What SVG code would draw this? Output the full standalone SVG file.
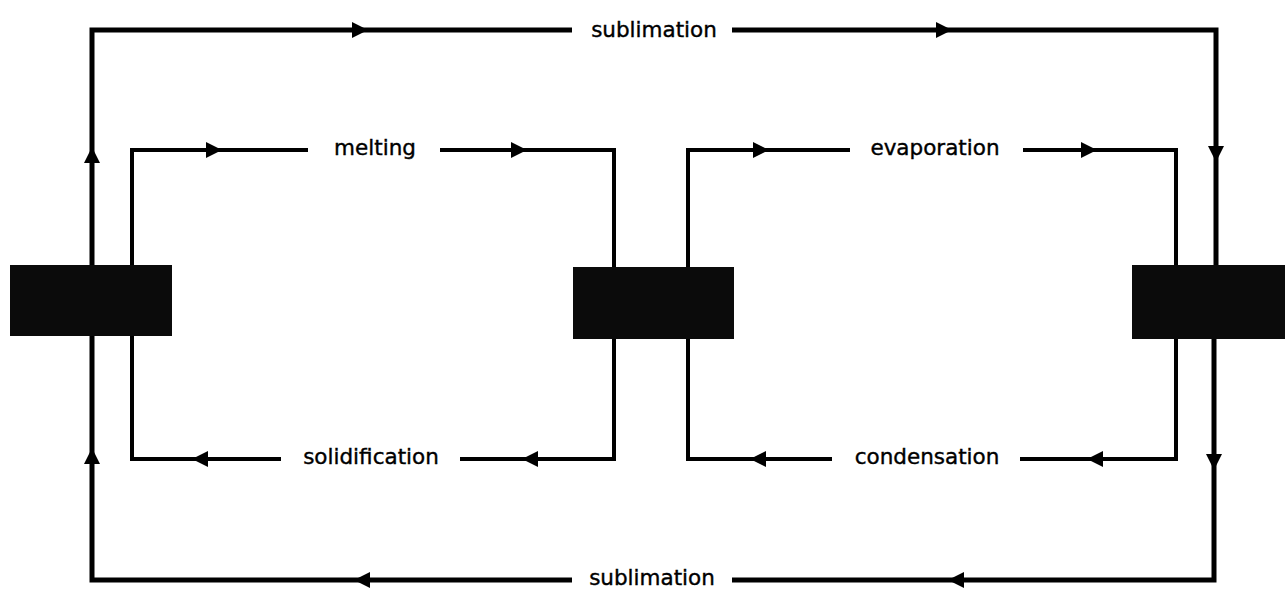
<svg xmlns="http://www.w3.org/2000/svg" width="1285" height="589" viewBox="0 0 1285 589">
<style>
.outer{fill:none;stroke:#000;stroke-width:5;stroke-linejoin:miter}
.inner{fill:none;stroke:#000;stroke-width:4;stroke-linejoin:miter}
.lbl{font-family:"DejaVu Sans","Liberation Sans",sans-serif;font-size:21.5px;fill:#000;stroke:#000;stroke-width:0.4;text-anchor:middle}
.box{fill:#0b0b0b}
</style>
<defs>
<path id="ah" d="M0,0 L-16,-8 L-16,8 Z" fill="#000"/>
</defs>
<rect width="1285" height="589" fill="#fff"/>
<g id="connectors">
  <path class="outer" d="M92,265 V30 H572"/>
  <path class="outer" d="M732,30 H1216 V265"/>
  <path class="outer" d="M1214,339 V580 H732"/>
  <path class="outer" d="M572,580 H92 V336"/>
  <path class="inner" d="M132,265 V150 H308"/>
  <path class="inner" d="M440,150 H614 V267"/>
  <path class="inner" d="M614,339 V459 H460"/>
  <path class="inner" d="M281,459 H132 V336"/>
  <path class="inner" d="M688,267 V150 H850"/>
  <path class="inner" d="M1023,150 H1176 V265"/>
  <path class="inner" d="M1176,339 V459 H1020"/>
  <path class="inner" d="M832,459 H688 V339"/>
  <use href="#ah" transform="translate(368,30)"/>
  <use href="#ah" transform="translate(952,30)"/>
  <use href="#ah" transform="translate(1216,162) rotate(90)"/>
  <use href="#ah" transform="translate(1214,470) rotate(90)"/>
  <use href="#ah" transform="translate(948,580) rotate(180)"/>
  <use href="#ah" transform="translate(354,580) rotate(180)"/>
  <use href="#ah" transform="translate(92,448) rotate(-90)"/>
  <use href="#ah" transform="translate(92,147) rotate(-90)"/>
  <use href="#ah" transform="translate(222,150)"/>
  <use href="#ah" transform="translate(527,150)"/>
  <use href="#ah" transform="translate(192,459) rotate(180)"/>
  <use href="#ah" transform="translate(522,459) rotate(180)"/>
  <use href="#ah" transform="translate(769,150)"/>
  <use href="#ah" transform="translate(1097,150)"/>
  <use href="#ah" transform="translate(750,459) rotate(180)"/>
  <use href="#ah" transform="translate(1087,459) rotate(180)"/>
</g>
<g id="labels">
  <text class="lbl" x="654" y="37">sublimation</text>
  <text class="lbl" x="375" y="155">melting</text>
  <text class="lbl" x="935" y="155">evaporation</text>
  <text class="lbl" x="371" y="464">solidification</text>
  <text class="lbl" x="927" y="464">condensation</text>
  <text class="lbl" x="652" y="585">sublimation</text>
</g>
<g id="solid"><rect class="box" x="10" y="265" width="162" height="71"/></g>
<g id="liquid"><rect class="box" x="573" y="267" width="161" height="72"/></g>
<g id="gas"><rect class="box" x="1132" y="265" width="153" height="74"/></g>
</svg>
